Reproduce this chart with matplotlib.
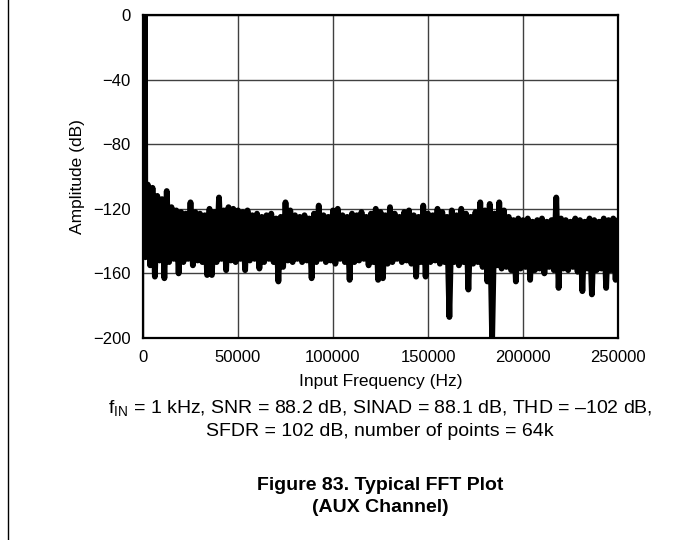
import numpy as np
import matplotlib.pyplot as plt
from matplotlib.lines import Line2D

plt.rcParams['font.family'] = ['Liberation Sans', 'DejaVu Sans']
plt.rcParams['mathtext.fontset'] = 'custom'
plt.rcParams['mathtext.rm'] = 'Liberation Sans'

# fundamental tone (Hz, dB)
fund_freq = [0, 1000]
fund_amp = [-145, 0]

# noise floor: upper envelope at 2.5k, 5k, ... 250k Hz
upper_amp = [-105, -107, -112, -114, -109, -119, -121, -122, -123, -116,
             -122, -123, -124, -120, -122, -113, -121, -119, -120, -121,
             -122, -121, -124, -123, -125, -124, -123, -126, -125, -116,
             -121, -124, -125, -124, -126, -123, -118, -124, -125, -121,
             -120, -124, -125, -123, -124, -122, -125, -123, -120, -122,
             -124, -119, -123, -125, -122, -121, -124, -125, -118, -123,
             -124, -120, -122, -125, -121, -124, -120, -123, -125, -122,
             -116, -121, -117, -123, -116, -121, -125, -127, -126, -127,
             -126, -128, -127, -126, -128, -127, -113, -126, -127, -128,
             -126, -127, -128, -126, -127, -128, -126, -127, -126, -127]
# lower envelope at 1.25k, 3.75k, ... 248.75k Hz
lower_amp = [-150, -155, -162, -152, -163, -153, -151, -160, -153, -151,
             -155, -152, -153, -161, -161, -153, -151, -158, -152, -153,
             -151, -158, -152, -151, -157, -153, -151, -153, -165, -156,
             -152, -153, -151, -153, -152, -163, -153, -151, -153, -152,
             -154, -151, -153, -164, -153, -152, -151, -155, -153, -164,
             -163, -154, -153, -151, -153, -152, -154, -162, -153, -162,
             -153, -152, -154, -153, -187, -153, -155, -153, -170, -154,
             -153, -156, -165, -201, -155, -157, -156, -158, -165, -157,
             -156, -164, -158, -157, -160, -156, -158, -169, -157, -158,
             -156, -159, -171, -157, -173, -158, -157, -169, -158, -164]

upper_freq = np.arange(2500, 250001, 2500)
lower_freq = upper_freq - 1250

freq = np.concatenate([fund_freq, np.column_stack([lower_freq, upper_freq]).ravel()])
amp = np.concatenate([fund_amp, np.column_stack([lower_amp, upper_amp]).ravel()])

fig = plt.figure(figsize=(6.73, 5.40), dpi=100)
ax = fig.add_axes([143 / 673, 1 - 338 / 540, 475 / 673, 323 / 540])

ax.plot(freq, amp, color='black', lw=4.2, solid_joinstyle='round', solid_capstyle='round')

ax.set_xlim(0, 250000)
ax.set_ylim(-200, 0)
ax.set_xticks([0, 50000, 100000, 150000, 200000, 250000])
ax.set_xticklabels(['0', '50000', '100000', '150000', '200000', '250000'])
ax.set_yticks([0, -40, -80, -120, -160, -200])
ax.grid(True, color='#404040', lw=1)
ax.set_axisbelow(True)
ax.tick_params(length=0, labelsize=12, pad=9)
for s in ax.spines.values():
    s.set_linewidth(1.6)
    s.set_color('black')

ax.set_xlabel('Input Frequency (Hz)', fontsize=12.5, labelpad=6)
ax.set_ylabel('Amplitude (dB)', fontsize=12.5, labelpad=6)

cx = 380 / 673
fig.text(cx, 1 - 409 / 540,
         r'f$_{\mathrm{IN}}$ = 1 kHz, SNR = 88.2 dB, SINAD = 88.1 dB, THD = –102 dB,',
         ha='center', va='center', fontsize=14)
fig.text(cx, 1 - 432 / 540, 'SFDR = 102 dB, number of points = 64k',
         ha='center', va='center', fontsize=14)
fig.text(cx, 1 - 485 / 540, 'Figure 83. Typical FFT Plot',
         ha='center', va='center', fontsize=14, fontweight='bold')
fig.text(cx, 1 - 508 / 540, '(AUX Channel)',
         ha='center', va='center', fontsize=14, fontweight='bold')

fig.add_artist(Line2D([8 / 673, 8 / 673], [0, 1], color='black', lw=1))

fig.savefig('out.png', dpi=100)
